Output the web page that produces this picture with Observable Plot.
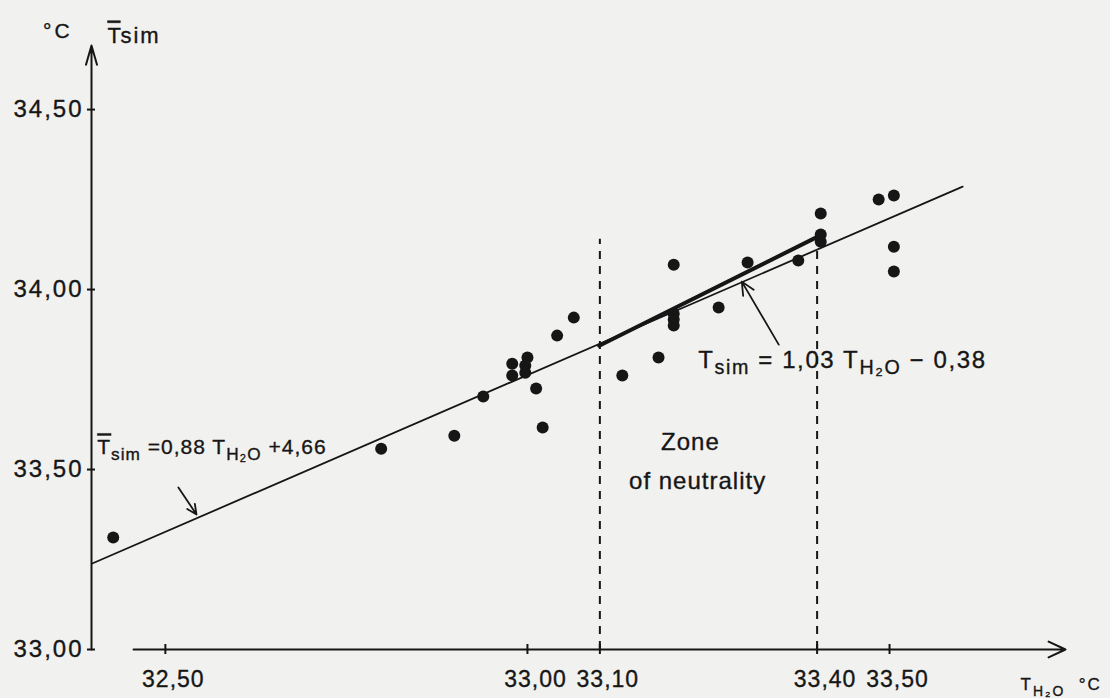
<!DOCTYPE html>
<html>
<head>
<meta charset="utf-8">
<script src="https://cdn.jsdelivr.net/npm/d3@7"></script>
<script src="https://cdn.jsdelivr.net/npm/@observablehq/plot@0.6"></script>
<style>
  html, body { margin: 0; padding: 0; background: #f1f1ef; }
  #chart { width: 1110px; height: 698px; }
</style>
</head>
<body>
<div id="chart"></div>
<script>
// ---------- data ----------
// water temperature T_H2O (°C)
const tH2O = [32.428, 32.798, 32.899, 32.939, 32.979, 32.979, 33.000, 32.997, 32.997,
  33.012, 33.021, 33.041, 33.064, 33.131, 33.181, 33.202, 33.202, 33.202, 33.202,
  33.264, 33.304, 33.374, 33.405, 33.405, 33.405, 33.485, 33.506, 33.506, 33.506];
// mean simulated skin temperature T̄sim (°C)
const tSim = [33.311, 33.558, 33.594, 33.703, 33.794, 33.761, 33.811, 33.789, 33.769,
  33.725, 33.617, 33.872, 33.922, 33.761, 33.811, 34.069, 33.933, 33.917, 33.900,
  33.950, 34.075, 34.081, 34.211, 34.153, 34.133, 34.250, 34.261, 34.119, 34.050];

// overall fit  T̄sim = 0.88 T_H2O + 4.66  (as drawn)
const fitAllX = [32.399, 33.601];
const fitAllY = [33.239, 34.286];
// fit inside zone of neutrality  Tsim = 1.03 T_H2O - 0.38 (as drawn)
const fitZoneX = [33.099, 33.401];
const fitZoneY = [33.844, 34.147];

// zone of neutrality limits
const zoneLimits = [33.10, 33.40];
const zoneTop = 34.14;

// axis ticks
const xTicks = [32.50, 33.00, 33.10, 33.40, 33.50];
const yTicks = [33.00, 33.50, 34.00, 34.50];
const fmt = v => v.toFixed(2).replace(".", ",");

// axis extents
const X0 = 32.398, X1 = 33.743, XAXIS0 = 32.456;
const Y0 = 33.00, Y1 = 34.678;

// ---------- layout ----------
const W = 1110, H = 698;
const mL = 91, mR = 45, mT = 45, mB = 49;
const ux = (X1 - X0) / (W - mL - mR);   // data units per pixel (x)
const uy = (Y1 - Y0) / (H - mT - mB);   // data units per pixel (y)

const ink = "#161616";
const font = "Liberation Sans, Arial, sans-serif";

const pts = tH2O.map((x, i) => ({x, y: tSim[i]}));
const fitAll = fitAllX.map((x, i) => ({x, y: fitAllY[i]}));
const fitZone = fitZoneX.map((x, i) => ({x, y: fitZoneY[i]}));

// annotation texts (markup: ^{..} overline, _{..} subscript)
const labels = [
  {x: 32.331, y: 34.699, text: "°C", size: 21, anchor: "start", ls: 3},
  {x: 32.420, y: 34.686, text: "^{T}sim", size: 22, anchor: "start", ls: 2},
  {x: 33.681, y: 32.888, text: "T_{H₂O}  °C", size: 17, anchor: "start", ls: 2},
  {x: 32.406, y: 33.542, text: "^{T}_{sim} =0,88 T_{H₂O} +4,66", size: 21, anchor: "start", ls: 1},
  {x: 33.236, y: 33.783, text: "T_{sim} = 1,03 T_{H₂O} − 0,38", size: 24, anchor: "start", ls: 1.6},
  {x: 33.225, y: 33.553, text: "Zone", size: 24, anchor: "middle", ls: 1},
  {x: 33.235, y: 33.447, text: "of neutrality", size: 24, anchor: "middle", ls: 1}
];
const arrows = [
  {x1: 32.518, y1: 33.450, x2: 32.543, y2: 33.375},
  {x1: 33.347, y1: 33.847, x2: 33.296, y2: 34.022}
];

const textMarks = labels.map(d => Plot.text([d], {
  x: "x", y: "y", text: "text", fontSize: d.size, textAnchor: d.anchor,
  lineAnchor: "bottom", fill: ink, stroke: ink, strokeWidth: 0.35, fontFamily: font
}));

const plot = Plot.plot({
  width: W, height: H,
  marginLeft: mL, marginRight: mR, marginTop: mT, marginBottom: mB,
  x: {domain: [X0, X1], axis: null},
  y: {domain: [Y0, Y1], axis: null},
  style: {background: "#f1f1ef", color: ink, fontFamily: font},
  marks: [
    // y axis with arrow
    Plot.arrow([0], {x1: () => X0, y1: () => Y0, x2: () => X0, y2: () => Y1,
      stroke: ink, strokeWidth: 2, headLength: 15, headAngle: 32}),
    // x axis with arrow
    Plot.arrow([0], {x1: () => XAXIS0, y1: () => Y0, x2: () => X1, y2: () => Y0,
      stroke: ink, strokeWidth: 2, headLength: 14, headAngle: 50}),
    // y ticks
    Plot.ruleY(yTicks, {y: d => d, x1: () => X0 - 4 * ux, x2: () => X0 + 4 * ux,
      stroke: ink, strokeWidth: 2}),
    // x ticks
    Plot.ruleX(xTicks, {x: d => d, y1: () => Y0 - 5 * uy, y2: () => Y0 + 5 * uy,
      stroke: ink, strokeWidth: 2}),
    // tick labels
    Plot.text(yTicks, {x: () => X0, y: d => d, text: d => fmt(d), dx: -8,
      textAnchor: "end", lineAnchor: "middle", fontSize: 24, fill: ink,
      stroke: ink, strokeWidth: 0.35, fontFamily: font}),
    Plot.text(xTicks, {x: d => d, y: () => Y0, text: d => fmt(d), dx: 8, dy: 30,
      textAnchor: "middle", lineAnchor: "middle", fontSize: 23, fill: ink,
      stroke: ink, strokeWidth: 0.35, fontFamily: font}),
    // zone of neutrality limits
    Plot.ruleX(zoneLimits, {x: d => d, y1: () => Y0, y2: () => zoneTop,
      stroke: ink, strokeWidth: 2, strokeDasharray: "8,7"}),
    // regression lines
    Plot.line(fitAll, {x: "x", y: "y", stroke: ink, strokeWidth: 1.8}),
    Plot.line(fitZone, {x: "x", y: "y", stroke: ink, strokeWidth: 4}),
    // observations
    Plot.dot(pts, {x: "x", y: "y", r: 6, fill: ink, stroke: "none"}),
    // pointer arrows
    Plot.arrow(arrows, {x1: "x1", y1: "y1", x2: "x2", y2: "y2",
      stroke: ink, strokeWidth: 1.8, headLength: 12, headAngle: 50}),
    ...textMarks
  ]
});

// letter spacing per text mark (tick labels first, then annotation labels)
const textGroups = d3.select(plot).selectAll("g[aria-label='text']").nodes();
const spacing = [2, 1, ...labels.map(d => d.ls)];
textGroups.forEach((g, i) => g.setAttribute("letter-spacing", spacing[i] ?? 1));

// rich text: subscripts and overlines
d3.select(plot).selectAll("text").each(function () {
  const s = this.textContent;
  if (!/[_^]\{/.test(s)) return;
  const t = d3.select(this);
  t.text(null);
  const re = /([_^])\{([^}]*)\}/g;
  let last = 0, m, shift = 0;
  const add = (str, kind) => {
    const sp = t.append("tspan").text(str);
    const target = kind === "_" ? 6 : 0;
    if (target !== shift) { sp.attr("dy", target - shift); shift = target; }
    if (kind === "_") sp.attr("font-size", "0.82em");
    if (kind === "^") sp.style("text-decoration", "overline");
  };
  while ((m = re.exec(s))) {
    if (m.index > last) add(s.slice(last, m.index), "");
    add(m[2], m[1]);
    last = re.lastIndex;
  }
  if (last < s.length) add(s.slice(last), "");
});

document.getElementById("chart").appendChild(plot);
</script>
</body>
</html>
